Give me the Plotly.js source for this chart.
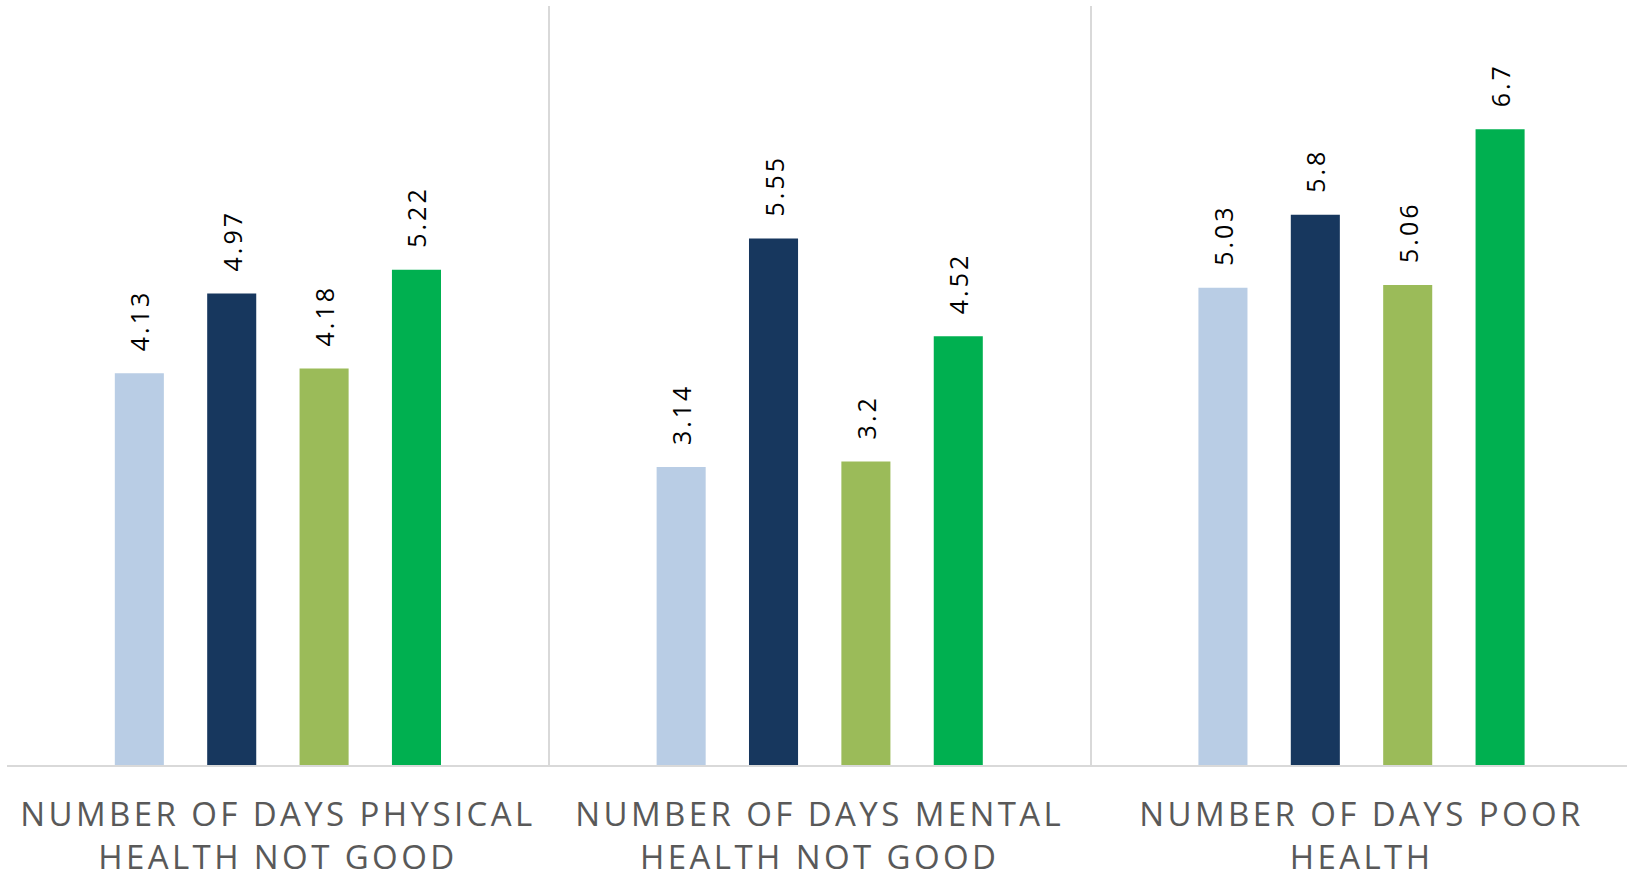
<!DOCTYPE html>
<html>
<head>
<meta charset="utf-8">
<script src="https://cdn.plot.ly/plotly-3.0.1.min.js"></script>
<style>
  html, body { margin: 0; padding: 0; background: #ffffff; }
  #chart { width: 1627px; height: 879px; }
  .xtick text { letter-spacing: 3.4px; }
  text.bartext { letter-spacing: 3px; }
</style>
</head>
<body>
<div id="chart"></div>
<script>
// Categories shown along the bottom axis
const categories = [
  'NUMBER OF DAYS PHYSICAL<br>HEALTH NOT GOOD',
  'NUMBER OF DAYS MENTAL<br>HEALTH NOT GOOD',
  'NUMBER OF DAYS POOR<br>HEALTH'
];

// Average number of days, one array per series
const seriesNames = ['Series 1', 'Series 2', 'Series 3', 'Series 4'];
const series1 = [4.13, 3.14, 5.03];
const series2 = [4.97, 5.55, 5.8];
const series3 = [4.18, 3.2, 5.06];
const series4 = [5.22, 4.52, 6.7];

const seriesValues = [series1, series2, series3, series4];
const seriesColors = ['#B9CDE5', '#17375E', '#9BBB59', '#00B050'];

// Value labels sit a little above each bar; the leading no-break spaces open the gap
const labelLead = '\u00a0\u00a0';

const traces = seriesValues.map((vals, i) => ({
  type: 'bar',
  name: seriesNames[i],
  x: categories,
  y: vals,
  marker: { color: seriesColors[i], line: { width: 0 } },
  text: vals.map(v => labelLead + String(v)),
  texttemplate: '%{text}',
  textposition: 'outside',
  textangle: -90,
  constraintext: 'none',
  cliponaxis: false,
  outsidetextfont: { family: 'Open Sans, sans-serif', size: 25, color: '#000000' },
  hoverinfo: 'skip'
}));

const layout = {
  width: 1627,
  height: 879,
  margin: { l: 7, r: 0, t: 6, b: 114, pad: 0 },
  paper_bgcolor: '#ffffff',
  plot_bgcolor: '#ffffff',
  showlegend: false,
  barmode: 'group',
  bargap: 0.318,
  bargroupgap: 0.469,
  xaxis: {
    type: 'category',
    range: [-0.5, 2.49],
    tickson: 'boundaries',
    showgrid: true,
    gridcolor: '#D9D9D9',
    gridwidth: 2,
    ticks: '',
    showline: true,
    linecolor: '#D9D9D9',
    linewidth: 2,
    ticklabelstandoff: 19,
    tickfont: { family: 'Open Sans, sans-serif', size: 33, color: '#595959' },
    fixedrange: true
  },
  yaxis: {
    range: [0, 8],
    showgrid: false,
    zeroline: false,
    showticklabels: false,
    ticks: '',
    showline: false,
    fixedrange: true
  }
};

Plotly.newPlot('chart', traces, layout, { displayModeBar: false, staticPlot: true });
</script>
</body>
</html>
